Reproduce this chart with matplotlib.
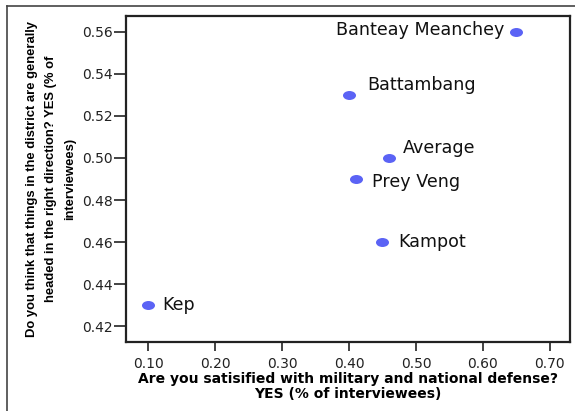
import matplotlib
matplotlib.use("Agg")
import matplotlib.pyplot as plt
from matplotlib.lines import Line2D
from matplotlib.markers import MarkerStyle
from matplotlib.path import Path
from matplotlib.transforms import Affine2D

plt.rcParams['font.family'] = ['DejaVu Sans']

districts = ["Kep", "Battambang", "Banteay Meanchey", "Average", "Prey Veng", "Kampot"]
defense_yes = [0.10, 0.40, 0.65, 0.46, 0.41, 0.45]
direction_yes = [0.43, 0.53, 0.56, 0.50, 0.49, 0.46]

# label placement (offset in points, alignment)
label_pos = {
    "Kep": ((10, 0), "left"),
    "Battambang": ((13, 7), "left"),
    "Banteay Meanchey": ((-9, 1.5), "right"),
    "Average": ((10, 7.5), "left"),
    "Prey Veng": ((11.5, -2), "left"),
    "Kampot": ((11, 0), "left"),
}

W, H = 575, 411
fig = plt.figure(figsize=(W / 100, H / 100), dpi=100)
ax = fig.add_axes([126 / W, 1 - 342 / H, (570 - 126) / W, (342 - 16) / H])

# slightly wide dots, as in the original
oval = MarkerStyle(Path.unit_circle().transformed(Affine2D().scale(1.45, 1.0)))
ax.scatter(defense_yes, direction_yes, s=88, marker=oval, color="#5b63f5",
           zorder=3, linewidths=0)
for name, x, y in zip(districts, defense_yes, direction_yes):
    off, ha = label_pos[name]
    ax.annotate(name, (x, y), xytext=off, textcoords="offset points",
                ha=ha, va="center", fontsize=12.6, color="#111111")

ax.set_xlim(0.067, 0.73)
ax.set_ylim(0.4124, 0.5676)
xt = [0.10, 0.20, 0.30, 0.40, 0.50, 0.60, 0.70]
yt = [0.42, 0.44, 0.46, 0.48, 0.50, 0.52, 0.54, 0.56]
ax.set_xticks(xt)
ax.set_yticks(yt)
ax.set_xticklabels([f"{v:.2f}" for v in xt])
ax.set_yticklabels([f"{v:.2f}" for v in yt])

for s in ax.spines.values():
    s.set_linewidth(1.6)
    s.set_color("#222222")
ax.tick_params(axis="x", direction="out", length=6.5, width=1.2, pad=4,
               labelsize=10, colors="#222222")
ax.tick_params(axis="y", direction="out", length=8.5, width=1.2, pad=1,
               labelsize=10, colors="#222222")

ax.set_xlabel("Are you satisified with military and national defense?\nYES (% of interviewees)",
              fontsize=10, fontweight="bold", labelpad=1, linespacing=1.05)
ax.set_ylabel("Do you think that things in the district are generally\nheaded in the right direction? YES (% of\ninterviewees)",
              fontsize=9.4, fontweight="bold", labelpad=4, linespacing=1.8,
              family="Liberation Sans")

# outer frame lines
fig.add_artist(Line2D([7 / W, 7 / W], [0, 1 - 6 / H], color="#444444", lw=1.2))
fig.add_artist(Line2D([7 / W, 1], [1 - 6 / H, 1 - 6 / H], color="#444444", lw=1.2))

fig.savefig("out.png", dpi=100)
